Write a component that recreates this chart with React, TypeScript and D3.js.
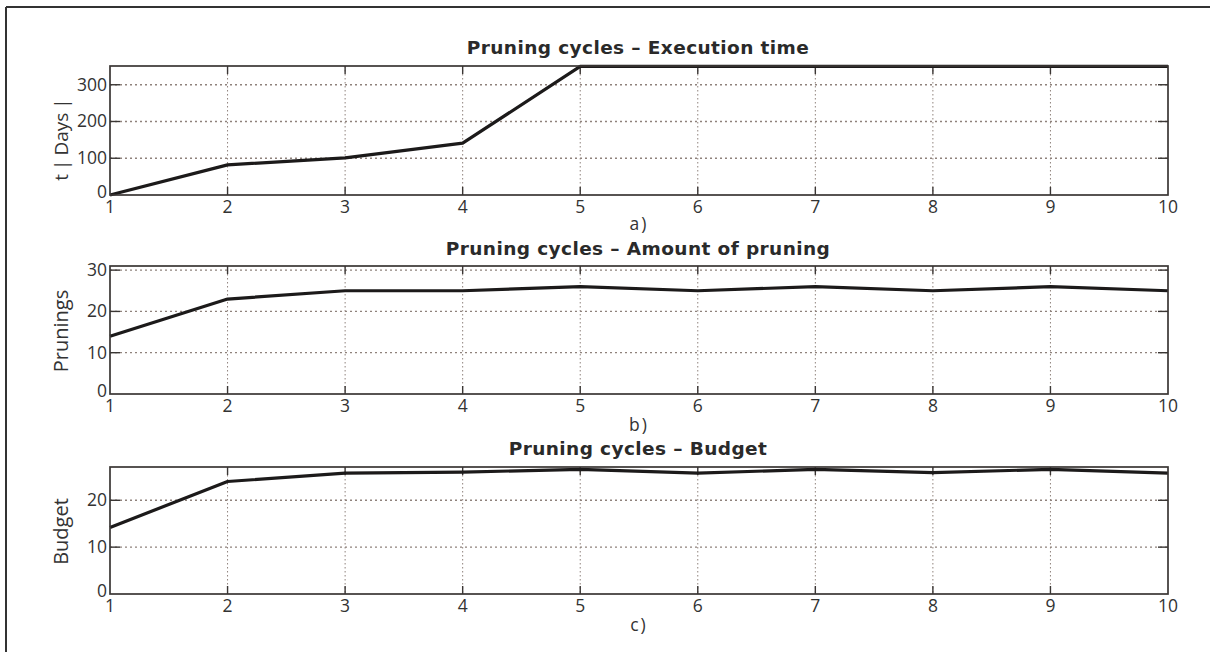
import React from "react";
import * as d3 from "d3";

const cycles = [1, 2, 3, 4, 5, 6, 7, 8, 9, 10];
const executionTime = [0, 82, 101, 141, 350, 350, 350, 350, 350, 350];
const prunings = [14, 23, 25, 25, 26, 25, 26, 25, 26, 25];
const budget = [14.2, 24, 25.8, 26, 26.6, 25.8, 26.6, 25.9, 26.6, 25.8];

const titles = [
  "Pruning cycles \u2013 Execution time",
  "Pruning cycles \u2013 Amount of pruning",
  "Pruning cycles \u2013 Budget",
];
const yLabels = ["t | Days |", "Prunings", "Budget"];
const subLabels = ["a)", "b)", "c)"];
const yDomains: [number, number][] = [
  [0, 351],
  [0, 31],
  [0, 27.1],
];
const yTicks = [
  [0, 100, 200, 300],
  [0, 10, 20, 30],
  [0, 10, 20],
];
const seriesList = [executionTime, prunings, budget];

const W = 1210;
const H = 654;
const left = 110;
const right = 1168;
const layouts = [
  { top: 66, bottom: 195, titleY: 53.5, subY: 229.5, labelDy: 9 },
  { top: 266, bottom: 394, titleY: 254.5, subY: 430.5, labelDy: 1 },
  { top: 467, bottom: 594, titleY: 455, subY: 630.5, labelDy: 1 },
];

const frameColor = "#3a3634";
const gridColor = "#8f827c";
const tickFont = "'Open Sans', 'DejaVu Sans', sans-serif";

function Panel({ i }: { i: number }) {
  const L = layouts[i];
  const x = d3.scaleLinear().domain([1, 10]).range([left, right]);
  const y = d3.scaleLinear().domain(yDomains[i]).range([L.bottom, L.top]);
  const data = seriesList[i];
  const line = d3
    .line<number>()
    .x((_, k) => x(cycles[k]))
    .y((d) => y(d));
  const cx = (left + right) / 2;
  const cy = (L.top + L.bottom) / 2;
  return (
    <g>
      <text
        x={cx - 1}
        y={L.titleY}
        textAnchor="middle"
        fontFamily="'DejaVu Sans', sans-serif"
        fontWeight="bold"
        fontSize={18.5}
        letterSpacing={0.4}
        fill="#2a2a2a"
      >
        {titles[i]}
      </text>
      {/* grid */}
      {cycles.slice(1, -1).map((c) => (
        <line
          key={"gx" + c}
          x1={x(c)}
          x2={x(c)}
          y1={L.top}
          y2={L.bottom}
          stroke={gridColor}
          strokeWidth={1}
          strokeDasharray="1.5,2.5"
        />
      ))}
      {yTicks[i]
        .filter((t) => t > yDomains[i][0])
        .map((t) => (
          <line
            key={"gy" + t}
            x1={left}
            x2={right}
            y1={y(t)}
            y2={y(t)}
            stroke={gridColor}
            strokeWidth={1.3}
            strokeDasharray="2,3"
          />
        ))}
      {/* ticks */}
      {cycles.slice(1, -1).map((c) => (
        <g key={"tx" + c}>
          <line x1={x(c)} x2={x(c)} y1={L.bottom} y2={L.bottom - 8} stroke={frameColor} strokeWidth={1.4} />
          <line x1={x(c)} x2={x(c)} y1={L.top} y2={L.top + 8} stroke={frameColor} strokeWidth={1.4} />
        </g>
      ))}
      {yTicks[i]
        .filter((t) => t > yDomains[i][0])
        .map((t) => (
          <g key={"ty" + t}>
            <line x1={left} x2={left + 10} y1={y(t)} y2={y(t)} stroke={frameColor} strokeWidth={1.4} />
            <line x1={right} x2={right - 10} y1={y(t)} y2={y(t)} stroke={frameColor} strokeWidth={1.4} />
          </g>
        ))}
      {/* data line */}
      <path d={line(data) || ""} fill="none" stroke="#1c1a1a" strokeWidth={3.2} strokeLinejoin="round" />
      {/* frame */}
      <rect
        x={left}
        y={L.top}
        width={right - left}
        height={L.bottom - L.top}
        fill="none"
        stroke={frameColor}
        strokeWidth={1.7}
      />
      {/* tick labels */}
      {cycles.map((c) => (
        <text
          key={"lx" + c}
          x={x(c)}
          y={L.bottom + 18}
          textAnchor="middle"
          fontFamily={tickFont}
          fontSize={17.5}
          fill="#333"
        >
          {c}
        </text>
      ))}
      {yTicks[i].map((t) => (
        <text
          key={"ly" + t}
          x={left - 3}
          y={y(t) + (t === 0 ? 3 : 6)}
          textAnchor="end"
          fontFamily={tickFont}
          fontSize={17.5}
          fill="#333"
        >
          {t}
        </text>
      ))}
      <text
        transform={`translate(68,${cy + L.labelDy}) rotate(-90)`}
        textAnchor="middle"
        fontFamily={tickFont}
        fontSize={i === 0 ? 19 : 20}
        wordSpacing={i === 0 ? -1 : 0}
        fill="#333"
      >
        {yLabels[i]}
      </text>
      <text
        x={cx}
        y={L.subY}
        textAnchor="middle"
        fontFamily={tickFont}
        fontSize={17.5}
        fill="#333"
        letterSpacing={2}
      >
        {subLabels[i]}
      </text>
    </g>
  );
}

export default function App() {
  return (
    <svg
      width={W}
      height={H}
      style={{ position: "absolute", left: 0, top: 0, background: "#fff" }}
    >
      <rect x={0} y={0} width={W} height={H} fill="#fff" />
      <line x1={6} x2={W} y1={7} y2={7} stroke="#333" strokeWidth={2} />
      <line x1={6} x2={6} y1={7} y2={652} stroke="#333" strokeWidth={2} />
      {[0, 1, 2].map((i) => (
        <Panel key={i} i={i} />
      ))}
    </svg>
  );
}
